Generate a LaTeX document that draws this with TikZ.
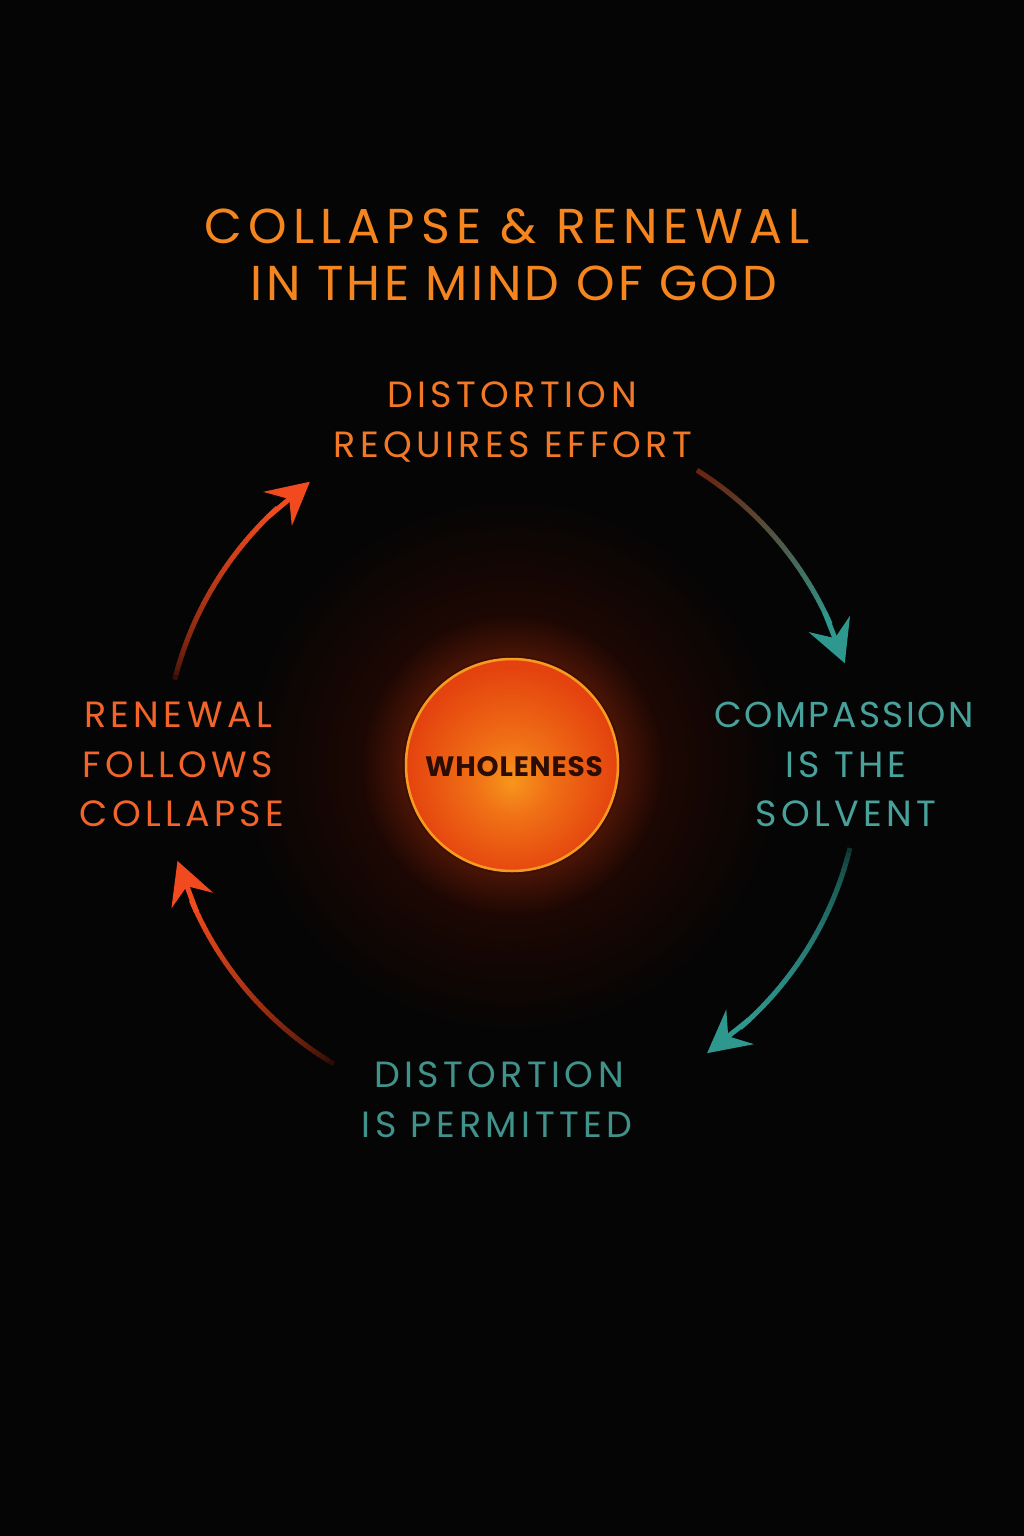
\documentclass[tikz,border=0pt]{standalone}
\usepackage{fontspec}
\setmainfont{Poppins}
\newfontfamily\trackfont{Poppins}[LetterSpace=12]
\newfontfamily\trackfontB{Poppins}[LetterSpace=7]
\newfontfamily\titlefontA{Poppins}[LetterSpace=12.5]
\newfontfamily\titlefontB{Poppins}[LetterSpace=7]
\newfontfamily\boldtrack{Poppins}[LetterSpace=3]
\usetikzlibrary{arrows.meta,calc}
\definecolor{bg}{HTML}{050505}
\definecolor{haloA}{HTML}{4A1406}
\definecolor{haloB}{HTML}{1C0703}
\definecolor{sunA}{HTML}{F7961C}
\definecolor{sunB}{HTML}{F07016}
\definecolor{sunC}{HTML}{E4420E}
\definecolor{sunRing}{HTML}{F79A20}
\definecolor{sunEdge}{HTML}{3A1005}
\definecolor{titleC}{HTML}{F5861F}
\definecolor{topC}{HTML}{F07826}
\definecolor{leftC}{HTML}{F2642A}
\definecolor{tealText}{HTML}{48A29B}
\definecolor{wholeC}{HTML}{2B0D06}
\definecolor{redArr}{HTML}{F04A1E}
\definecolor{darkRed}{HTML}{1A0604}
\definecolor{rustC}{HTML}{6A2610}
\definecolor{tealArr}{HTML}{2E988F}
\definecolor{darkTeal}{HTML}{0A1E1C}
\pgfdeclareradialshading{halo}{\pgfpoint{0bp}{0bp}}{color(0bp)=(haloA); color(10bp)=(haloA); color(14bp)=(haloB); color(25bp)=(bg); color(50bp)=(bg)}
\pgfdeclareradialshading{sunfill}{\pgfpoint{0bp}{-4bp}}{color(0bp)=(sunA); color(9bp)=(sunB); color(25bp)=(sunC); color(50bp)=(sunC)}
\tikzset{
  lbl/.style={anchor=base, inner sep=0pt, font=\trackfont\fontsize{36.5}{40}\selectfont},
  lblB/.style={anchor=base, inner sep=0pt, font=\trackfontB\fontsize{36}{40}\selectfont},
  ttl/.style={anchor=base, inner sep=0pt, text=titleC},
  arrowline/.style={line width=5pt, line cap=butt},
  tipstyle/.style={-{Stealth[length=42pt,width=44pt,inset=15pt]}}
}
% #1 start angle, #2 tip angle, #3 start colour, #4 end colour, #5 gamma
\newcommand{\gradarc}[5]{%
  \pgfmathsetmacro{\bodyend}{#2-7}%
  \foreach \i in {0,...,39}{%
    \pgfmathsetmacro{\aa}{#1+(\bodyend-#1)*\i/40}%
    \pgfmathsetmacro{\bb}{#1+(\bodyend-#1)*(\i+1.15)/40}%
    \pgfmathsetmacro{\pp}{100*((\i+0.5)/40)^#5}%
    \draw[arrowline, color=#4!\pp!#3] (C) ++(\aa:348) arc[start angle=\aa, end angle=\bb, radius=348];
  }%
  \pgfmathsetmacro{\cc}{#2-9}%
  \coordinate (tipfrom) at ($(C)+(\cc:348)$);
  \coordinate (tipto) at ($(C)+(#2:348)$);
  \draw[arrowline, color=#4, tipstyle] (tipfrom) -- (tipto);
}
\begin{document}
\begin{tikzpicture}[x=1pt,y=-1pt]
\useasboundingbox (0,0) rectangle (1024,1536);
\fill[bg] (0,0) rectangle (1024,1536);
\coordinate (C) at (512,765);
% halo and sun
\shade[shading=halo] (C) circle (270);
\shade[shading=sunfill] (C) circle (107);
\draw[sunEdge, line width=1.5pt] (C) circle (108.5);
\draw[sunRing, line width=2.5pt] (C) circle (106);
\node[anchor=base, inner sep=0pt, text=wholeC, font=\boldtrack\bfseries\fontsize{28}{32}\selectfont] (whole) at (514,776) {WHOLENESS};
% title
\node[ttl, font=\titlefontA\fontsize{49}{56}\selectfont] (title1) at (507,243) {COLLAPSE \& RENEWAL};
\node[ttl, font=\titlefontB\fontsize{49}{56}\selectfont] (title2) at (514,300) {IN THE MIND OF GOD};
% labels
\node[lbl, text=topC] (top1) at (512,407) {DISTORTION};
\node[lbl, text=topC] (top2) at (513,457) {REQUIRES EFFORT};
\node[lblB, text=tealText] (right1) at (844,727) {COMPASSION};
\node[lbl, text=tealText] (right2) at (846,777) {IS THE};
\node[lbl, text=tealText] (right3) at (846,826) {SOLVENT};
\node[lbl, text=leftC] (left1) at (178,727) {RENEWAL};
\node[lbl, text=leftC] (left2) at (178,777) {FOLLOWS};
\node[lbl, text=leftC] (left3) at (182,826) {COLLAPSE};
\node[lbl, text=tealText!90!black] (bot1) at (499,1087) {DISTORTION};
\node[lbl, text=tealText!90!black] (bot2) at (497,1137) {IS PERMITTED};
% arrows
\gradarc{194.2}{234.5}{darkRed}{redArr}{0.45}
\gradarc{-57.9}{-17.0}{rustC}{tealArr}{1.3}
\gradarc{13.8}{55.9}{darkTeal}{tealArr}{0.4}
\gradarc{120.8}{164.0}{darkRed}{redArr}{0.6}
\end{tikzpicture}
\end{document}
